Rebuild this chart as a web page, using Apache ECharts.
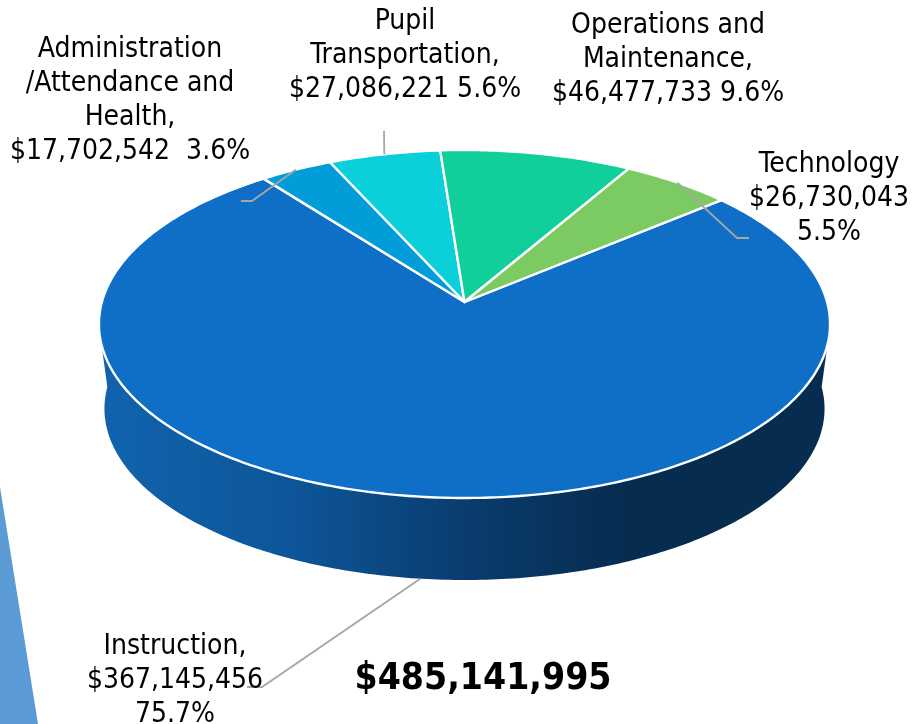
<!DOCTYPE html>
<html><head><meta charset="utf-8">
<style>html,body{margin:0;padding:0;background:#fff}#c{width:913px;height:724px}</style>
<script src="https://cdn.jsdelivr.net/npm/echarts@6/dist/echarts.min.js"></script>
</head><body><div id="c"></div>
<script>
// ---- data ----
const categories = ['Instruction','Administration /Attendance and Health','Pupil Transportation','Operations and Maintenance','Technology'];
const values = [367145456,17702542,27086221,46477733,26730043];
const labelTexts = [
  'Instruction,\n$367,145,456\n75.7%',
  'Administration\n/Attendance and\nHealth,\n$17,702,542  3.6%',
  'Pupil\nTransportation,\n$27,086,221 5.6%',
  'Operations and\nMaintenance,\n$46,477,733 9.6%',
  'Technology\n$26,730,043\n5.5%'
];
const totalLabel = '$485,141,995';
const colors = ['#0F6FC6','#009DD9','#0BD0D9','#10CF9B','#7CCA62'];

// ---- layout ----
const FONT = '"DejaVu Sans Condensed","DejaVu Sans",sans-serif';
const view = {cx:464.5, topY:302, rimX:362.6, rimY:171.2, tilt:0.1264, startDeg:50, lowerY:387, lowerScale:0.985};
const labelAt = [[175,681],[130,101],[405,56],[668,60],[829,199]];
const leaderElbows = [[[262,687],[247,687]],[[252,201],[241,201]],[[384,131]],null,[[737,238],[749,238]]];

const total = values.reduce((a,b)=>a+b,0);
function project(deg, lower){
  const t = deg*Math.PI/180, u = Math.sin(t), v = Math.cos(t), w = 1+view.tilt*v;
  const s = lower ? view.lowerScale : 1;
  return [view.cx + s*view.rimX*u/w, (lower?view.lowerY:view.topY) - s*view.rimY*v/w];
}
function arc(from, to, lower){
  const n = Math.max(8, Math.ceil(Math.abs(to-from)/0.75)), pts = [];
  for(let i=0;i<=n;i++) pts.push(project(from+(to-from)*i/n, lower));
  return pts;
}
function renderItem(params, api){
  const i = params.dataIndex;
  let before = 0;
  for(let k=0;k<i;k++) before += values[k];
  const val = api.value(0);
  const a0 = view.startDeg + before/total*360, a1 = a0 + val/total*360, mid = (a0+a1)/2;
  const children = [];
  if(i===0){
    const wall = arc(90,270,true).concat(arc(262,98,false));
    children.push({type:'polygon', shape:{points:wall}, style:{fill:new echarts.graphic.LinearGradient(0,0,1,0,[
      {offset:0,color:'#1163AE'},{offset:0.27,color:'#0D5598'},{offset:0.5,color:'#0A3C6E'},{offset:0.72,color:'#062C50'},{offset:1,color:'#062C4F'}
    ]), stroke:null}});
  }
  const face = [[view.cx, view.topY]].concat(arc(a0,a1,false));
  children.push({type:'polygon', shape:{points:face}, style:{fill:colors[i], stroke:'#fff', lineWidth:2.4, lineJoin:'round'}});
  if(leaderElbows[i]){
    const onFront = Math.cos(mid*Math.PI/180) < -0.5;
    const pts = [project(mid,onFront)].concat(leaderElbows[i]);
    children.push({type:'polyline', shape:{points:pts}, style:{stroke:'#A6A6A6', lineWidth:1.8, fill:null}});
  }
  children.push({type:'text', style:{text:labelTexts[i], x:labelAt[i][0], y:labelAt[i][1], align:'center', verticalAlign:'middle',
    font:'28px '+FONT, lineHeight:34, fill:'#000'}, z2:10});
  return {type:'group', children};
}
const chart = echarts.init(document.getElementById('c'), null, {renderer:'canvas'});
chart.setOption({
  animation:false,
  backgroundColor:'#fff',
  graphic:[
    {type:'polygon', z:0, shape:{points:[[0,487],[38,724],[0,724]]}, style:{fill:'#5B9BD5'}},
    {type:'text', z:5, style:{text:totalLabel, x:483, y:679, align:'center', verticalAlign:'middle', font:'bold 37px '+FONT, fill:'#000'}}
  ],
  series:[{type:'custom', coordinateSystem:'none', renderItem, silent:true,
    data:categories.map((name,i)=>({name, value:[values[i]]}))}]
});
</script></body></html>
